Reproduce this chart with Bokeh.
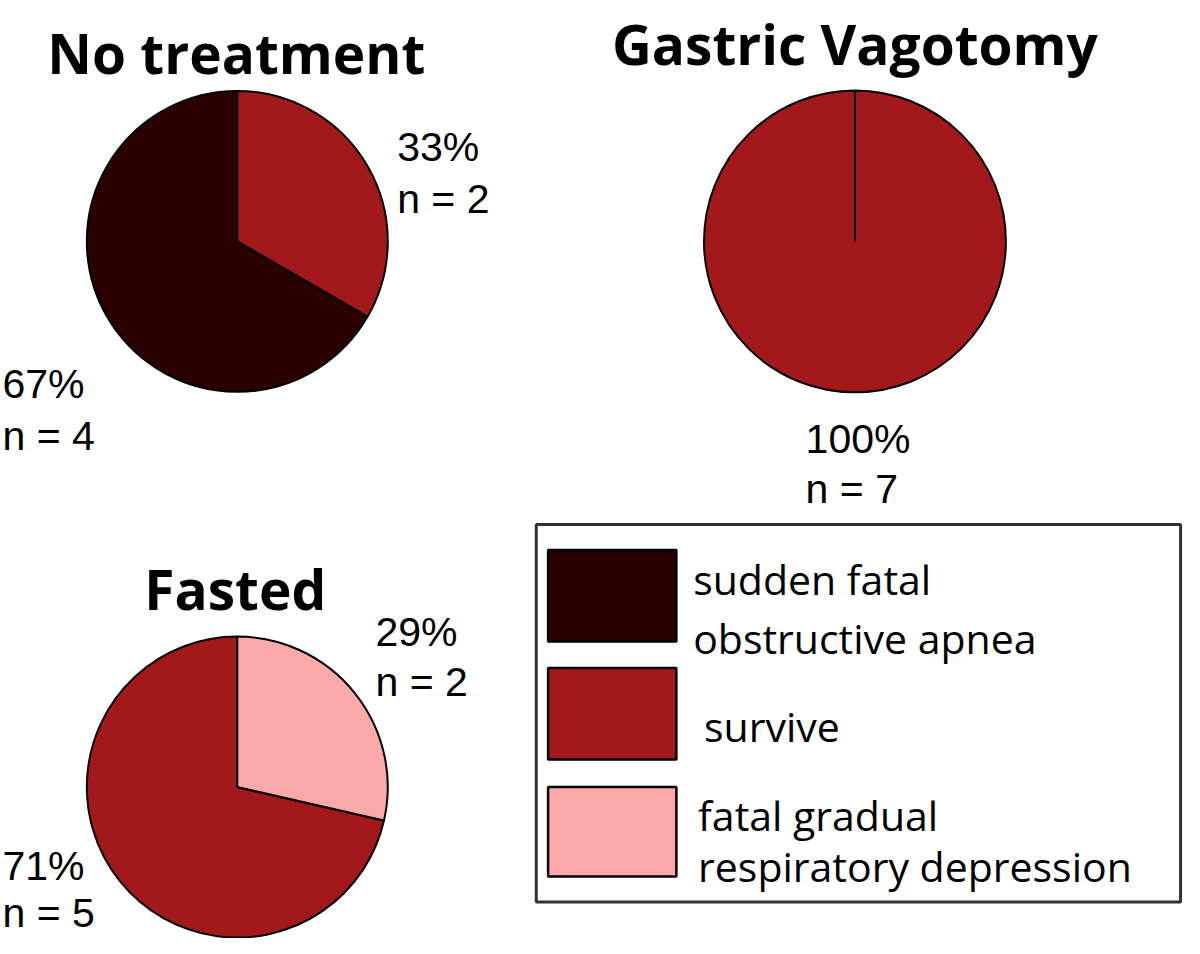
import math
from bokeh.plotting import figure
from bokeh.models import Range1d
from bokeh.core.properties import value
from bokeh.embed import file_html
from bokeh.resources import INLINE

# ---------------- data ----------------
groups = ["No treatment", "Gastric Vagotomy", "Fasted"]
outcomes = ["sudden fatal obstructive apnea", "survive", "fatal gradual respiratory depression"]
counts_no_treatment = [4, 2, 0]
counts_vagotomy = [0, 7, 0]
counts_fasted = [0, 5, 2]
legend_lines = [["sudden fatal", "obstructive apnea"], ["survive"], ["fatal gradual", "respiratory depression"]]
colors = ["#2b0000", "#a3191b", "#fca9a9"]

counts = {"No treatment": counts_no_treatment,
          "Gastric Vagotomy": counts_vagotomy,
          "Fasted": counts_fasted}

# ---------------- layout (image pixel coordinates, y downward) ----------------
W, H = 1200, 954
pie_layout = {
    "No treatment": dict(cx=240, cy=245, r=152.5, tx=239, ty=53),
    "Gastric Vagotomy": dict(cx=866, cy=245, r=153, tx=866, ty=44),
    "Fasted": dict(cx=240, cy=800, r=152.5, tx=238, ty=598),
}
label_pos = {
    ("No treatment", 1): (402, 149, 53),
    ("No treatment", 0): (2, 390, 53),
    ("Gastric Vagotomy", 1): (816, 446, 51),
    ("Fasted", 2): (380, 642, 51),
    ("Fasted", 1): (2, 880, 48),
}
legend_box = (543, 533, 1196, 917)
swatch_x = (555, 685)
swatch_y = [(559, 652), (679, 772), (800, 891)]
legend_text_pos = [[(702, 588), (702, 648)], [(713, 738)], [(707, 828), (707, 880)]]


def Y(y):
    return H - y


p = figure(width=1184, height=938, x_range=Range1d(0, W), y_range=Range1d(0, H),
           output_backend="svg", toolbar_location=None,
           x_axis_location=None, y_axis_location=None, min_border=0)
p.grid.visible = False
p.outline_line_color = None
p.background_fill_color = "white"
p.border_fill_color = "white"

title_font = value("Open Sans")
label_font = value("Liberation Sans")

for g in groups:
    lay = pie_layout[g]
    c = counts[g]
    total = sum(c)
    start = math.pi / 2
    for i, v in enumerate(c):
        if v == 0:
            continue
        span = 2 * math.pi * v / total
        end = start + span
        p.wedge(x=lay["cx"], y=Y(lay["cy"]), radius=lay["r"],
                start_angle=start, end_angle=end, direction="anticlock",
                fill_color=colors[i], line_color="black", line_width=2)
        if span >= 2 * math.pi - 1e-9:
            # full pie: draw the seam from centre to top as in the original
            p.segment(x0=lay["cx"], y0=Y(lay["cy"]), x1=lay["cx"],
                      y1=Y(lay["cy"]) + lay["r"], line_color="black", line_width=2)
        start = end
        lx, ly, gap = label_pos[(g, i)]
        pct = round(100 * v / total)
        p.text(x=[lx, lx], y=[Y(ly), Y(ly + gap)],
               text=[f"{pct}%", f"n = {v}"],
               text_font=label_font, text_font_size="41px",
               text_color="black", text_baseline="alphabetic", text_align="left")
    p.text(x=[lay["tx"]], y=[Y(lay["ty"])], text=[g], text_font=title_font,
           text_font_size="55px", text_font_style="bold", text_color="black",
           text_baseline="alphabetic", text_align="center")

# legend
l, t, r, b = legend_box
p.quad(left=l, right=r, top=Y(t), bottom=Y(b), fill_color=None,
       line_color="#333333", line_width=3)
for i, name in enumerate(outcomes):
    y0, y1 = swatch_y[i]
    p.quad(left=swatch_x[0], right=swatch_x[1], top=Y(y0), bottom=Y(y1),
           fill_color=colors[i], line_color="black", line_width=2.5)
    for line, (tx, ty) in zip(legend_lines[i], legend_text_pos[i]):
        p.text(x=[tx], y=[Y(ty)], text=[line], text_font=title_font,
               text_font_size="41px", text_color="black",
               text_baseline="alphabetic", text_align="left")

open("out.html", "w").write(file_html(p, INLINE))
